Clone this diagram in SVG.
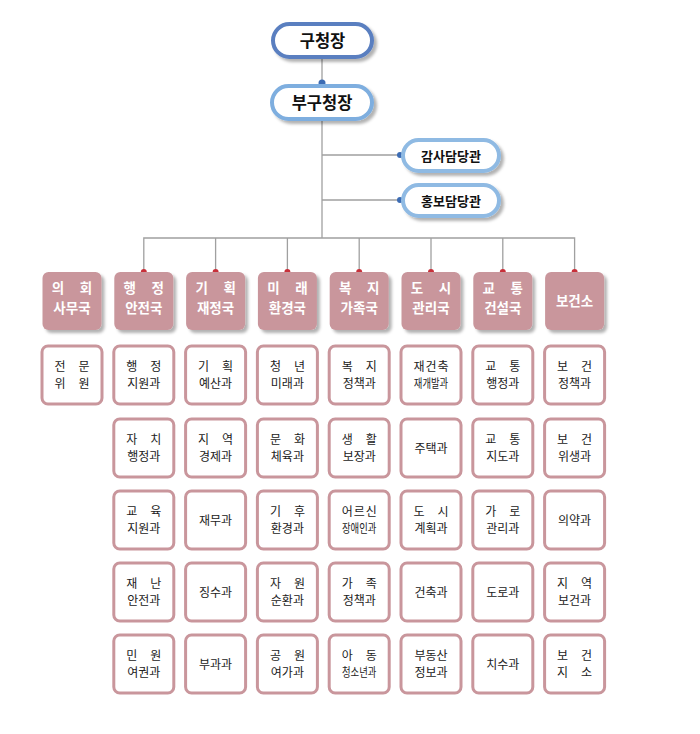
<svg xmlns="http://www.w3.org/2000/svg" width="700" height="734" viewBox="0 0 700 734">
<defs>
<filter id="sh" x="-20%" y="-20%" width="150%" height="150%">
<feDropShadow dx="3" dy="3" stdDeviation="1.5" flood-color="#000" flood-opacity="0.3"/>
</filter>
</defs>
<style>
.pill{fill:#fff;stroke-width:4;filter:url(#sh)}
.pt{font-family:"Noto Sans CJK KR",sans-serif;font-weight:bold;fill:#111;text-anchor:middle}
.dept{fill:#c9969c;filter:url(#sh)}
.dt{font-family:"Noto Sans CJK KR",sans-serif;font-weight:bold;font-size:13.5px;fill:#fff;text-anchor:middle}
.sub{fill:#fff;stroke:#c9969c;stroke-width:3}
.st{font-family:"Noto Sans CJK KR",sans-serif;font-size:12px;fill:#222;text-anchor:middle}
.ln{stroke:#a0a0a0;stroke-width:1.3;fill:none}
.rd{fill:#c8303a}
.bd{fill:#3c6cb4}
</style>
<rect width="700" height="734" fill="#fff"/>
<g id="connectors">
<path class="ln" d="M322,57 V238 M322,155 H400 M322,200 H400 M143.8,272 V238 H574.6 V272 M215.6,238 V272 M287.4,238 V272 M359.2,238 V272 M431,238 V272 M502.8,238 V272"/>
<circle class="bd" cx="322" cy="83" r="3.5"/>
<circle class="bd" cx="400" cy="155" r="3"/>
<circle class="bd" cx="400" cy="200" r="3"/>
<circle class="rd" cx="143.8" cy="272" r="3"/>
<circle class="rd" cx="215.6" cy="272" r="3"/>
<circle class="rd" cx="287.4" cy="272" r="3"/>
<circle class="rd" cx="359.2" cy="272" r="3"/>
<circle class="rd" cx="431" cy="272" r="3"/>
<circle class="rd" cx="502.8" cy="272" r="3"/>
<circle class="rd" cx="574.6" cy="272" r="3"/>
</g>
<g id="n-gucheongjang"><rect class="pill" x="273" y="24" width="99" height="33" rx="16.5" stroke="#5a7fc0"/><text class="pt" x="322.5" y="47" font-size="16.5">구청장</text></g>
<g id="n-bugucheongjang"><rect class="pill" x="272" y="86" width="100" height="33" rx="16.5" stroke="#7eaedf"/><text class="pt" x="322" y="109" font-size="16.5">부구청장</text></g>
<g id="n-gamsa"><rect class="pill" x="403" y="140" width="96" height="31" rx="15.5" stroke="#8fbae3"/><text class="pt" x="451" y="160.5" font-size="13">감사담당관</text></g>
<g id="n-hongbo"><rect class="pill" x="403" y="185" width="96" height="31" rx="15.5" stroke="#8fbae3"/><text class="pt" x="451" y="205.5" font-size="13">홍보담당관</text></g>

<g id="d0"><rect class="dept" x="42.5" y="272" width="59" height="58" rx="6"/><text class="dt" x="58 86" y="293">의회</text><text class="dt" x="72" y="313">사무국</text></g>
<g id="d1"><rect class="dept" x="114.3" y="272" width="59" height="58" rx="6"/><text class="dt" x="129.8 157.8" y="293">행정</text><text class="dt" x="143.8" y="313">안전국</text></g>
<g id="d2"><rect class="dept" x="186.1" y="272" width="59" height="58" rx="6"/><text class="dt" x="201.6 229.6" y="293">기획</text><text class="dt" x="215.6" y="313">재정국</text></g>
<g id="d3"><rect class="dept" x="257.9" y="272" width="59" height="58" rx="6"/><text class="dt" x="273.4 301.4" y="293">미래</text><text class="dt" x="287.4" y="313">환경국</text></g>
<g id="d4"><rect class="dept" x="329.7" y="272" width="59" height="58" rx="6"/><text class="dt" x="345.2 373.2" y="293">복지</text><text class="dt" x="359.2" y="313">가족국</text></g>
<g id="d5"><rect class="dept" x="401.5" y="272" width="59" height="58" rx="6"/><text class="dt" x="417 445" y="293">도시</text><text class="dt" x="431" y="313">관리국</text></g>
<g id="d6"><rect class="dept" x="473.3" y="272" width="59" height="58" rx="6"/><text class="dt" x="488.8 516.8" y="293">교통</text><text class="dt" x="502.8" y="313">건설국</text></g>
<g id="d7"><rect class="dept" x="545.1" y="272" width="59" height="58" rx="6"/><text class="dt" x="574.6" y="306">보건소</text></g>

<g id="s0-1"><rect class="sub" x="42" y="346" width="60" height="58" rx="6"/><text class="st" x="60 84" y="370.5">전문</text><text class="st" x="60 84" y="388">위원</text></g>

<g id="s1-1"><rect class="sub" x="113.8" y="346" width="60" height="58" rx="6"/><text class="st" x="131.8 155.8" y="370.5">행정</text><text class="st" x="143.8" y="388">지원과</text></g>
<g id="s1-2"><rect class="sub" x="113.8" y="419" width="60" height="58" rx="6"/><text class="st" x="131.8 155.8" y="443.5">자치</text><text class="st" x="143.8" y="461">행정과</text></g>
<g id="s1-3"><rect class="sub" x="113.8" y="491" width="60" height="58" rx="6"/><text class="st" x="131.8 155.8" y="515.5">교육</text><text class="st" x="143.8" y="533">지원과</text></g>
<g id="s1-4"><rect class="sub" x="113.8" y="563" width="60" height="58" rx="6"/><text class="st" x="131.8 155.8" y="587.5">재난</text><text class="st" x="143.8" y="605">안전과</text></g>
<g id="s1-5"><rect class="sub" x="113.8" y="635" width="60" height="58" rx="6"/><text class="st" x="131.8 155.8" y="659.5">민원</text><text class="st" x="143.8" y="677">여권과</text></g>

<g id="s2-1"><rect class="sub" x="185.6" y="346" width="60" height="58" rx="6"/><text class="st" x="203.6 227.6" y="370.5">기획</text><text class="st" x="215.6" y="388">예산과</text></g>
<g id="s2-2"><rect class="sub" x="185.6" y="419" width="60" height="58" rx="6"/><text class="st" x="203.6 227.6" y="443.5">지역</text><text class="st" x="215.6" y="461">경제과</text></g>
<g id="s2-3"><rect class="sub" x="185.6" y="491" width="60" height="58" rx="6"/><text class="st" x="215.6" y="524.5">재무과</text></g>
<g id="s2-4"><rect class="sub" x="185.6" y="563" width="60" height="58" rx="6"/><text class="st" x="215.6" y="596.5">징수과</text></g>
<g id="s2-5"><rect class="sub" x="185.6" y="635" width="60" height="58" rx="6"/><text class="st" x="215.6" y="668.5">부과과</text></g>

<g id="s3-1"><rect class="sub" x="257.4" y="346" width="60" height="58" rx="6"/><text class="st" x="275.4 299.4" y="370.5">청년</text><text class="st" x="287.4" y="388">미래과</text></g>
<g id="s3-2"><rect class="sub" x="257.4" y="419" width="60" height="58" rx="6"/><text class="st" x="275.4 299.4" y="443.5">문화</text><text class="st" x="287.4" y="461">체육과</text></g>
<g id="s3-3"><rect class="sub" x="257.4" y="491" width="60" height="58" rx="6"/><text class="st" x="275.4 299.4" y="515.5">기후</text><text class="st" x="287.4" y="533">환경과</text></g>
<g id="s3-4"><rect class="sub" x="257.4" y="563" width="60" height="58" rx="6"/><text class="st" x="275.4 299.4" y="587.5">자원</text><text class="st" x="287.4" y="605">순환과</text></g>
<g id="s3-5"><rect class="sub" x="257.4" y="635" width="60" height="58" rx="6"/><text class="st" x="275.4 299.4" y="659.5">공원</text><text class="st" x="287.4" y="677">여가과</text></g>

<g id="s4-1"><rect class="sub" x="329.2" y="346" width="60" height="58" rx="6"/><text class="st" x="347.2 371.2" y="370.5">복지</text><text class="st" x="359.2" y="388">정책과</text></g>
<g id="s4-2"><rect class="sub" x="329.2" y="419" width="60" height="58" rx="6"/><text class="st" x="347.2 371.2" y="443.5">생활</text><text class="st" x="359.2" y="461">보장과</text></g>
<g id="s4-3"><rect class="sub" x="329.2" y="491" width="60" height="58" rx="6"/><text class="st" x="347.2 359.2 371.2" y="515.5">어르신</text><text class="st" transform="translate(359.2,533) scale(0.78,1)">장애인과</text></g>
<g id="s4-4"><rect class="sub" x="329.2" y="563" width="60" height="58" rx="6"/><text class="st" x="347.2 371.2" y="587.5">가족</text><text class="st" x="359.2" y="605">정책과</text></g>
<g id="s4-5"><rect class="sub" x="329.2" y="635" width="60" height="58" rx="6"/><text class="st" x="347.2 371.2" y="659.5">아동</text><text class="st" transform="translate(359.2,677) scale(0.78,1)">청소년과</text></g>

<g id="s5-1"><rect class="sub" x="401" y="346" width="60" height="58" rx="6"/><text class="st" x="419 431 443" y="370.5">재건축</text><text class="st" transform="translate(431,388) scale(0.78,1)">재개발과</text></g>
<g id="s5-2"><rect class="sub" x="401" y="419" width="60" height="58" rx="6"/><text class="st" x="431" y="452.5">주택과</text></g>
<g id="s5-3"><rect class="sub" x="401" y="491" width="60" height="58" rx="6"/><text class="st" x="419 443" y="515.5">도시</text><text class="st" x="431" y="533">계획과</text></g>
<g id="s5-4"><rect class="sub" x="401" y="563" width="60" height="58" rx="6"/><text class="st" x="431" y="596.5">건축과</text></g>
<g id="s5-5"><rect class="sub" x="401" y="635" width="60" height="58" rx="6"/><text class="st" x="431" y="659.5">부동산</text><text class="st" x="431" y="677">정보과</text></g>

<g id="s6-1"><rect class="sub" x="472.8" y="346" width="60" height="58" rx="6"/><text class="st" x="490.8 514.8" y="370.5">교통</text><text class="st" x="502.8" y="388">행정과</text></g>
<g id="s6-2"><rect class="sub" x="472.8" y="419" width="60" height="58" rx="6"/><text class="st" x="490.8 514.8" y="443.5">교통</text><text class="st" x="502.8" y="461">지도과</text></g>
<g id="s6-3"><rect class="sub" x="472.8" y="491" width="60" height="58" rx="6"/><text class="st" x="490.8 514.8" y="515.5">가로</text><text class="st" x="502.8" y="533">관리과</text></g>
<g id="s6-4"><rect class="sub" x="472.8" y="563" width="60" height="58" rx="6"/><text class="st" x="502.8" y="596.5">도로과</text></g>
<g id="s6-5"><rect class="sub" x="472.8" y="635" width="60" height="58" rx="6"/><text class="st" x="502.8" y="668.5">치수과</text></g>

<g id="s7-1"><rect class="sub" x="544.6" y="346" width="60" height="58" rx="6"/><text class="st" x="562.6 586.6" y="370.5">보건</text><text class="st" x="574.6" y="388">정책과</text></g>
<g id="s7-2"><rect class="sub" x="544.6" y="419" width="60" height="58" rx="6"/><text class="st" x="562.6 586.6" y="443.5">보건</text><text class="st" x="574.6" y="461">위생과</text></g>
<g id="s7-3"><rect class="sub" x="544.6" y="491" width="60" height="58" rx="6"/><text class="st" x="574.6" y="524.5">의약과</text></g>
<g id="s7-4"><rect class="sub" x="544.6" y="563" width="60" height="58" rx="6"/><text class="st" x="562.6 586.6" y="587.5">지역</text><text class="st" x="574.6" y="605">보건과</text></g>
<g id="s7-5"><rect class="sub" x="544.6" y="635" width="60" height="58" rx="6"/><text class="st" x="562.6 586.6" y="659.5">보건</text><text class="st" x="562.6 586.6" y="677">지소</text></g>
</svg>
